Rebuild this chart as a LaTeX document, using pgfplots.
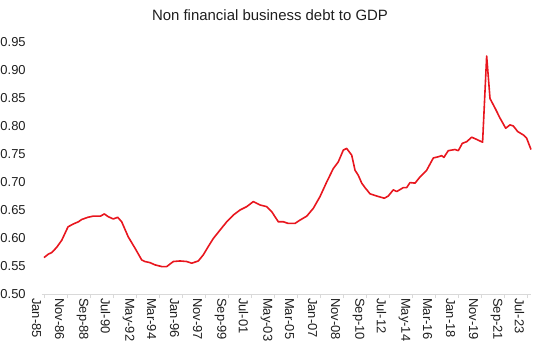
\documentclass[border=0pt]{standalone}
\usepackage{pgfplots}
\pgfplotsset{compat=1.18}
\usepackage{fontspec}
\setmainfont{Liberation Sans}
\definecolor{linered}{RGB}{232,22,30}
\definecolor{axgray}{RGB}{217,217,217}
\definecolor{txt}{RGB}{30,30,30}
\begin{document}
\begin{tikzpicture}
\begin{axis}[
  scale only axis,
  width=489.3bp, height=252bp,
  xmin=-2, xmax=466,
  ymin=0.5, ymax=0.95,
  axis x line*=bottom, axis y line*=left,
  y axis line style={draw=none},
  x axis line style={draw=axgray, line width=0.8bp},
  ytick={0.50,0.55,...,0.951},
  ytick style={draw=none},
  yticklabel style={font=\fontsize{13}{15}\selectfont, color=txt, anchor=east, inner sep=0pt, xshift=-12bp},
  /pgf/number format/assume math mode=true,
  /pgf/number format/.cd, fixed, fixed zerofill, precision=2, /pgfplots/.cd,
  xtick={0,22,...,462},
  xticklabels={Jan-85,Nov-86,Sep-88,Jul-90,May-92,Mar-94,Jan-96,Nov-97,Sep-99,Jul-01,May-03,Mar-05,Jan-07,Nov-08,Sep-10,Jul-12,May-14,Mar-16,Jan-18,Nov-19,Sep-21,Jul-23},
  xticklabel style={font=\fontsize{13}{15}\selectfont, color=txt, rotate=-90, anchor=west, inner sep=0pt, yshift=-7.5bp},
  xtick style={draw=axgray, line width=0.8bp},
  tick align=outside,
  major tick length=4bp,
  clip=false,
]
\addplot[linered, line width=1.6bp, line join=round] coordinates {
(0,0.565) (4,0.571) (7.4,0.574) (12,0.583) (17,0.596) (23,0.620) (28,0.625)
(33,0.629) (36,0.633) (42,0.637) (47,0.639) (54,0.639) (57.7,0.643) (61.5,0.638)
(66.3,0.634) (70.5,0.637) (74.3,0.629) (80.6,0.602) (87,0.582) (93.4,0.561)
(96.6,0.558) (101.4,0.556) (106.2,0.552) (112.6,0.549) (117.4,0.549) (123.7,0.558)
(130.1,0.559) (136.5,0.558) (141.3,0.555) (147.6,0.559) (152.4,0.570) (157.2,0.585)
(161.9,0.599) (168.3,0.614) (174.8,0.629) (181.1,0.641) (187.5,0.650) (193.9,0.656)
(200.2,0.665) (206.6,0.659) (213,0.656) (217.8,0.647) (224.1,0.629) (228.9,0.629)
(233.7,0.626) (240.1,0.626) (244.9,0.632) (251.3,0.639) (257.6,0.653) (264,0.674)
(270.4,0.700) (276.7,0.724) (281.5,0.736) (286.3,0.757) (289.5,0.760) (294.3,0.748)
(297.5,0.721) (300.6,0.712) (303.9,0.698) (307,0.690) (311.8,0.679) (318.2,0.675)
(325.5,0.671) (329.3,0.675) (334.1,0.686) (337.4,0.683) (343.7,0.690) (346.9,0.690)
(350.1,0.699) (354.9,0.698) (359.6,0.709) (366,0.721) (372.4,0.743) (377.1,0.745)
(380.4,0.747) (382.5,0.744) (386.7,0.756) (393.1,0.758) (396.3,0.756) (400.1,0.769)
(404.3,0.772) (409.1,0.780) (413.9,0.776) (419.5,0.771) (423.4,0.925) (426.6,0.849)
(431.4,0.832) (436.2,0.814) (441.6,0.796) (445.7,0.802) (448.9,0.800) (453.1,0.790)
(458.5,0.784) (461.7,0.778) (465.8,0.758)
};
\end{axis}
\node[font=\fontsize{15}{17}\selectfont, color=txt] at (228.1bp,279bp) {Non financial business debt to GDP};
\pgfresetboundingbox
\path[use as bounding box] (-41.9bp,-57bp) rectangle (498.1bp,294bp);
\end{tikzpicture}
\end{document}
